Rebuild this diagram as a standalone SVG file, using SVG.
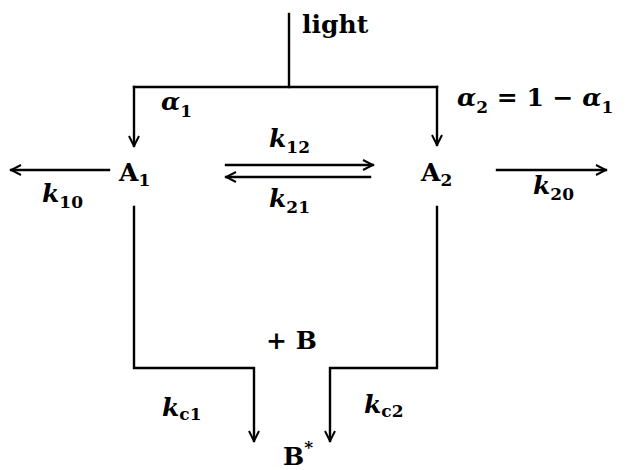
<svg xmlns="http://www.w3.org/2000/svg" width="628" height="470" viewBox="0 0 628 470">
<defs>
<style>
.ln{fill:none;stroke:#000;stroke-width:2.4;stroke-linecap:square}
.t{font-family:"DejaVu Serif","Liberation Serif",serif;font-weight:bold;font-size:25px;fill:#000}
.m{font-family:"DejaVu Serif","Liberation Serif",serif;font-weight:bold;font-style:italic;font-size:25px;fill:#000}
.s{font-style:normal;font-size:17px}
</style>
<marker id="ah" viewBox="0 0 12 12" refX="11" refY="6" markerWidth="12" markerHeight="12" markerUnits="userSpaceOnUse" orient="auto">
<path d="M1,1 L11,6 L1,11" fill="none" stroke="#000" stroke-width="2"/>
</marker>
</defs>
<rect width="628" height="470" fill="#fff"/>
<g id="connectors">
<path class="ln" d="M289,14 V87"/>
<path class="ln" d="M134,87 H437"/>
<path class="ln" d="M134,87 V146" marker-end="url(#ah)"/>
<path class="ln" d="M437,87 V145" marker-end="url(#ah)"/>
<path class="ln" d="M109,170 H11" marker-end="url(#ah)"/>
<path class="ln" d="M226,165 H373" marker-end="url(#ah)"/>
<path class="ln" d="M370,177 H226" marker-end="url(#ah)"/>
<path class="ln" d="M497,170 H606" marker-end="url(#ah)"/>
<path class="ln" d="M134,207 V368 H254 V441" marker-end="url(#ah)"/>
<path class="ln" d="M437,207 V368 H330 V441" marker-end="url(#ah)"/>
</g>
<g id="light"><text class="t" x="302" y="33">light</text></g>
<g id="alpha1"><text class="m" x="161" y="110">α<tspan class="s" dy="7">1</tspan></text></g>
<g id="alpha2"><text class="m" x="457" y="106">α<tspan class="s" dy="7">2</tspan><tspan dy="-7" font-style="normal"> = 1 − </tspan>α<tspan class="s" dy="7">1</tspan></text></g>
<g id="A1"><text class="t" x="119" y="181" font-size="26">A<tspan class="s" dy="5">1</tspan></text></g>
<g id="A2"><text class="t" x="421" y="181" font-size="26">A<tspan class="s" dy="5">2</tspan></text></g>
<g id="k10"><text class="m" x="42" y="202">k<tspan class="s" dy="6">10</tspan></text></g>
<g id="k12"><text class="m" x="269" y="147">k<tspan class="s" dy="6">12</tspan></text></g>
<g id="k21"><text class="m" x="269" y="207">k<tspan class="s" dy="6">21</tspan></text></g>
<g id="k20"><text class="m" x="533" y="194">k<tspan class="s" dy="6">20</tspan></text></g>
<g id="plusB"><text class="t" x="266" y="349">+ B</text></g>
<g id="kc1"><text class="m" x="162" y="416">k<tspan class="s" dy="4">c1</tspan></text></g>
<g id="kc2"><text class="m" x="364" y="413">k<tspan class="s" dy="4">c2</tspan></text></g>
<g id="Bstar"><text class="t" x="283" y="465">B<tspan class="s" dy="-12">*</tspan></text></g>
</svg>
